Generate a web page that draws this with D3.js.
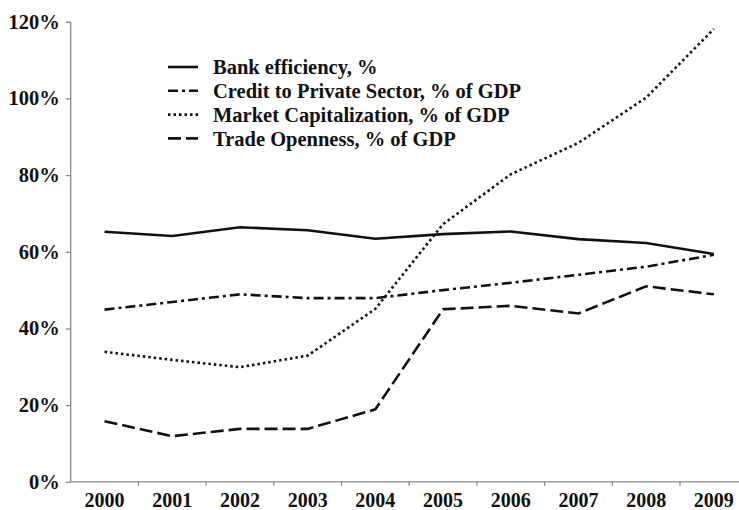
<!DOCTYPE html>
<html>
<head>
<meta charset="utf-8">
<script src="https://cdn.jsdelivr.net/npm/d3@7"></script>
<style>
  body { margin: 0; background: #fff; }
  text { font-family: "Liberation Serif", "Times New Roman", serif; font-weight: bold; fill: #111; }
</style>
</head>
<body>
<div id="chart"></div>
<script>
const years = ["2000", "2001", "2002", "2003", "2004", "2005", "2006", "2007", "2008", "2009"];
const yTicks = [0, 0.2, 0.4, 0.6, 0.8, 1.0, 1.2];

const bankEfficiency = [0.652, 0.641, 0.664, 0.656, 0.634, 0.646, 0.653, 0.633, 0.623, 0.594];
const creditPrivate = [0.449, 0.469, 0.489, 0.479, 0.479, 0.500, 0.519, 0.540, 0.561, 0.592];
const marketCap = [0.339, 0.318, 0.299, 0.329, 0.451, 0.672, 0.802, 0.884, 1.002, 1.181];
const tradeOpenness = [0.158, 0.119, 0.138, 0.138, 0.189, 0.450, 0.459, 0.439, 0.510, 0.489];

const series = [
  { name: "Bank efficiency, %", values: bankEfficiency, dash: null },
  { name: "Credit to Private Sector, % of GDP", values: creditPrivate, dash: "10,4,3,4" },
  { name: "Market Capitalization, % of GDP", values: marketCap, dash: "2.5,3" },
  { name: "Trade Openness, % of GDP", values: tradeOpenness, dash: "13,5" },
];

const width = 739;
const height = 510;
const plotLeft = 70.7;
const plotBottom = 481.8;
const plotTop = 21.7;

const svg = d3.select("#chart")
  .append("svg")
  .attr("width", width)
  .attr("height", height);

const x = d3.scaleBand()
  .domain(years)
  .range([plotLeft, plotLeft + 67.7 * years.length])
  .padding(0);

const y = d3.scaleLinear()
  .domain([0, 1.2])
  .range([plotBottom, plotTop]);

// y axis
const yAxis = svg.append("g")
  .attr("transform", `translate(${plotLeft},0)`)
  .call(d3.axisLeft(y).tickValues(yTicks).tickFormat(d3.format(".0%")).tickSize(5).tickPadding(6));
yAxis.selectAll("path, line").attr("stroke", "#8a8a8a").attr("stroke-width", 1.3);
yAxis.selectAll("text").attr("font-size", 20.5).attr("fill", "#111");
yAxis.select(".domain").attr("d", `M0,${plotTop}V${plotBottom}`);

// x axis, ticks sit on the band boundaries
const xAxis = svg.append("g")
  .attr("transform", `translate(0,${plotBottom})`)
  .call(d3.axisBottom(x).tickSize(0).tickPadding(11));
xAxis.select(".domain").attr("d", `M${plotLeft},0H${width}`).attr("stroke", "#8a8a8a").attr("stroke-width", 1.3);
xAxis.selectAll("text").attr("font-size", 20).attr("fill", "#111");
xAxis.selectAll(".boundary")
  .data(years.slice(1))
  .join("line")
  .attr("class", "boundary")
  .attr("x1", d => x(d))
  .attr("x2", d => x(d))
  .attr("y1", 0)
  .attr("y2", 4)
  .attr("stroke", "#8a8a8a")
  .attr("stroke-width", 1.3);

const line = d3.line()
  .x((d, i) => x(years[i]) + x.bandwidth() / 2)
  .y(d => y(d));

svg.append("g")
  .selectAll("path")
  .data(series)
  .join("path")
  .attr("d", d => line(d.values))
  .attr("fill", "none")
  .attr("stroke", "#111")
  .attr("stroke-width", 2.6)
  .attr("stroke-dasharray", d => d.dash);

// legend
const legend = svg.append("g").attr("transform", "translate(168,67)");
const rows = legend.selectAll("g")
  .data(series)
  .join("g")
  .attr("transform", (d, i) => `translate(0,${i * 23.8})`);
rows.append("line")
  .attr("x1", 0)
  .attr("x2", 30)
  .attr("stroke", "#111")
  .attr("stroke-width", 2.6)
  .attr("stroke-dasharray", d => d.dash);
rows.append("text")
  .attr("x", 45)
  .attr("dy", "0.35em")
  .attr("font-size", 20.5)
  .text(d => d.name);
</script>
</body>
</html>
